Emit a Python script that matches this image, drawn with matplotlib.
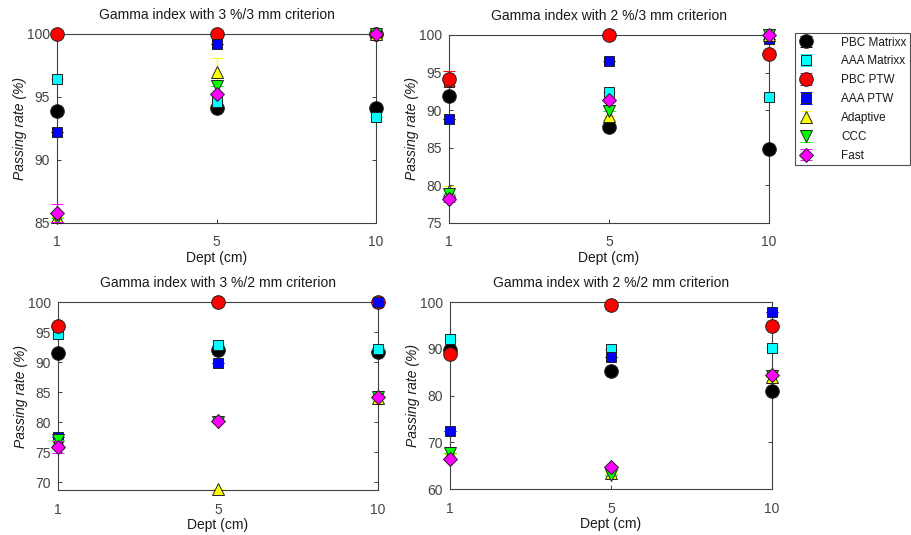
import numpy as np
import matplotlib
matplotlib.use("Agg")
import matplotlib.pyplot as plt

plt.rcParams['font.family'] = ['Liberation Sans', 'DejaVu Sans']

depths = ['1', '5', '10']
series_names = ['PBC Matrixx', 'AAA Matrixx', 'PBC PTW', 'AAA PTW', 'Adaptive', 'CCC', 'Fast']

titles = ['Gamma index with 3 %/3 mm criterion', 'Gamma index with 2 %/3 mm criterion',
          'Gamma index with 3 %/2 mm criterion', 'Gamma index with 2 %/2 mm criterion']

# Panel 1: 3%/3mm
p1_pbc_matrixx = [93.9, 94.1, 94.1]
p1_aaa_matrixx = [96.4, 94.6, 93.4]
p1_pbc_ptw = [100.0, 100.0, 100.0]
p1_aaa_ptw = [92.2, 99.2, 100.0]
p1_adaptive = [85.5, 97.0, 100.0]
p1_ccc = [85.4, 95.85, 100.0]
p1_fast = [85.8, 95.2, 100.0]
p1_err_adaptive = [0.0, 1.1, 0.0]
p1_err_fast = [0.7, 0.0, 0.0]

# Panel 2: 2%/3mm
p2_pbc_matrixx = [91.9, 87.7, 84.9]
p2_aaa_matrixx = [93.8, 92.4, 91.8]
p2_pbc_ptw = [94.2, 100.0, 97.5]
p2_aaa_ptw = [88.8, 96.6, 99.4]
p2_adaptive = [79.3, 89.2, 100.0]
p2_ccc = [78.8, 89.9, 100.0]
p2_fast = [78.2, 91.3, 100.0]
p2_err_pbc_ptw = [1.0, 0.0, 0.0]
p2_err_adaptive = [0.6, 0.0, 0.0]
p2_err_fast = [0.4, 0.0, 0.0]

# Panel 3: 3%/2mm
p3_pbc_matrixx = [91.5, 92.0, 91.6]
p3_aaa_matrixx = [94.6, 92.8, 92.2]
p3_pbc_ptw = [96.0, 100.0, 100.0]
p3_aaa_ptw = [77.5, 89.8, 100.0]
p3_adaptive = [76.8, 68.9, 84.0]
p3_ccc = [77.0, 80.0, 84.2]
p3_fast = [75.8, 80.2, 84.2]
p3_err_fast = [1.0, 0.0, 0.0]

# Panel 4: 2%/2mm
p4_pbc_matrixx = [89.8, 85.3, 81.0]
p4_aaa_matrixx = [92.1, 90.0, 90.2]
p4_pbc_ptw = [88.9, 99.3, 94.9]
p4_aaa_ptw = [72.5, 88.2, 97.9]
p4_adaptive = [67.5, 63.5, 84.0]
p4_ccc = [67.7, 63.0, 84.2]
p4_fast = [66.5, 64.8, 84.4]

zero = [0.0, 0.0, 0.0]

panels = [
    [p1_pbc_matrixx, p1_aaa_matrixx, p1_pbc_ptw, p1_aaa_ptw, p1_adaptive, p1_ccc, p1_fast],
    [p2_pbc_matrixx, p2_aaa_matrixx, p2_pbc_ptw, p2_aaa_ptw, p2_adaptive, p2_ccc, p2_fast],
    [p3_pbc_matrixx, p3_aaa_matrixx, p3_pbc_ptw, p3_aaa_ptw, p3_adaptive, p3_ccc, p3_fast],
    [p4_pbc_matrixx, p4_aaa_matrixx, p4_pbc_ptw, p4_aaa_ptw, p4_adaptive, p4_ccc, p4_fast],
]
errors = [
    [zero, zero, zero, zero, p1_err_adaptive, zero, p1_err_fast],
    [zero, zero, p2_err_pbc_ptw, zero, p2_err_adaptive, zero, p2_err_fast],
    [zero, zero, zero, zero, zero, zero, p3_err_fast],
    [zero, zero, zero, zero, zero, zero, zero],
]

ylims = [(85, 100), (75, 100), (68.7, 100), (60, 100)]
yticks = [[85, 90, 95, 100], [75, 80, 85, 90, 95, 100],
          [70, 75, 80, 85, 90, 95, 100], [60, 70, 80, 90, 100]]

markers = ['o', 's', 'o', 's', '^', 'v', 'D']
colors = ['#000000', '#00ffff', '#ff0000', '#0000ff', '#ffff00', '#00ff00', '#ff00ff']
msizes = [9.8, 7.2, 9.8, 7.2, 9.0, 9.0, 7.4]

positions = [
    [0.0626, 0.5832, 0.3502, 0.3533],
    [0.4929, 0.5832, 0.3512, 0.3515],
    [0.0637, 0.0841, 0.3512, 0.3514],
    [0.4940, 0.0854, 0.3534, 0.3501],
]

fig = plt.figure(figsize=(9.11, 5.35), dpi=100)
axc = '#404040'
handles = []
for k in range(4):
    ax = fig.add_axes(positions[k])
    x = np.arange(len(depths))
    for i in range(len(series_names)):
        h = ax.errorbar(x, panels[k][i], yerr=errors[k][i], fmt=markers[i], ms=msizes[i],
                        mfc=colors[i], mec='#222222', mew=0.7, ecolor=colors[i],
                        elinewidth=1.0, capsize=4, capthick=1.0, clip_on=False,
                        label=series_names[i], zorder=3 + i)
        for art in h.get_children():
            art.set_clip_on(False)
        if k == 0:
            handles.append(h)
    ax.set_xlim(0, len(depths) - 1)
    ax.set_ylim(*ylims[k])
    ax.set_xticks(x)
    ax.set_xticklabels(depths)
    ax.set_yticks(yticks[k])
    ax.tick_params(direction='in', top=True, right=True, length=3, width=0.7,
                   colors=axc, labelsize=10, labelcolor='#444444')
    ax.tick_params(axis='x', pad=9)
    ax.tick_params(axis='y', pad=5)
    for s in ax.spines.values():
        s.set_color(axc)
        s.set_linewidth(0.8)
    ax.set_title(titles[k], fontsize=10, color='#1a1a1a', pad=11)
    ax.set_xlabel('Dept (cm)', fontsize=10, color='#1a1a1a', labelpad=1)
    ax.set_ylabel('Passing rate (%)', fontsize=10, style='italic', color='#1a1a1a', labelpad=0)

leg = fig.legend(handles=handles, labels=series_names, loc='upper left',
                 bbox_to_anchor=(0.8727, 0.9383), frameon=True, fancybox=False,
                 fontsize=8.5, handlelength=1.2, handletextpad=2.4, borderpad=0.3,
                 labelspacing=0.58, borderaxespad=0)
leg.get_frame().set_edgecolor('#222222')
leg.get_frame().set_linewidth(0.8)
for t in leg.get_texts():
    t.set_color('#1a1a1a')

fig.savefig('out.png', dpi=100)
